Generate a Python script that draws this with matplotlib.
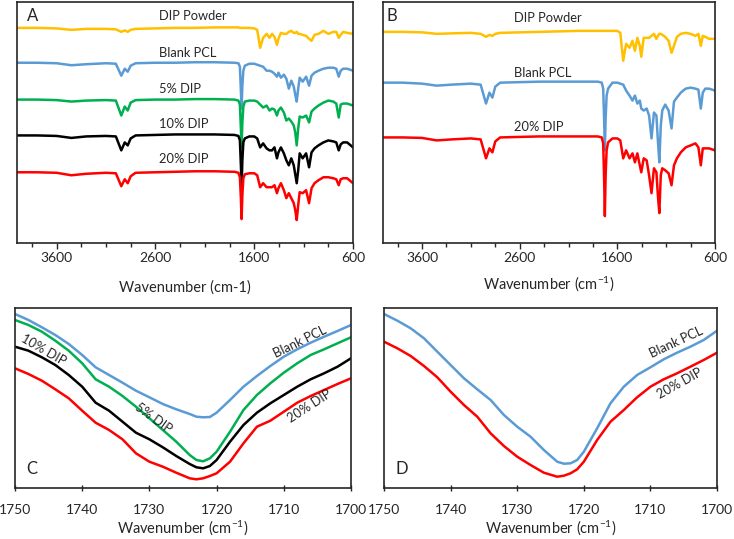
import numpy as np
import matplotlib
matplotlib.use("Agg")
import matplotlib.pyplot as plt
from matplotlib.ticker import FixedLocator

plt.rcParams["font.family"] = ["Lato", "DejaVu Sans"]
plt.rcParams["mathtext.fontset"] = "custom"
plt.rcParams["mathtext.rm"] = "Lato"
plt.rcParams["mathtext.it"] = "Lato:italic"
plt.rcParams["mathtext.bf"] = "Lato:bold"

### DATA ###
# Full spectra (panels A and B), transmittance in arbitrary units
wavenumber = [4000, 3800, 3600, 3450, 3300, 3100, 3000, 2945, 2910, 2880,
              2850, 2800, 2600, 2400, 2200, 2000, 1800, 1760, 1745, 1735,
              1728, 1720, 1710, 1695, 1650, 1600, 1570, 1540, 1510, 1475,
              1445, 1420, 1395, 1370, 1355, 1330, 1300, 1275, 1250, 1225,
              1200, 1185, 1170, 1155, 1140, 1110, 1075, 1045, 1020, 990,
              950, 900, 850, 800, 770, 745, 725, 700, 660, 600]

a_dip_powder = [216, 216, 215.5, 214, 215, 215, 214.5, 212, 213.5, 212,
                214, 215, 215.5, 216, 216, 216.5, 216.5, 216.5, 216, 216,
                216, 216, 216, 216, 216, 215.5, 214, 196, 206, 210,
                206, 210, 207, 199, 205, 211, 210, 210, 212, 213,
                211, 211, 212, 210, 210, 209, 208, 205, 203, 209,
                210, 213, 210, 212, 212, 206, 209, 212, 211, 210]
a_blank_pcl = [181, 181, 180.5, 178.5, 179.5, 180.5, 180, 168, 175, 172,
               178, 180.5, 181, 181, 181.5, 181.5, 181, 180.5, 177, 153,
               135, 158, 173, 178, 180, 180, 179, 178, 177, 173,
               173, 172, 170, 167, 171, 166, 169, 165, 155, 163,
               157, 149, 142, 155, 166, 162, 167, 158, 168, 171,
               173, 175, 176, 176, 175, 167, 173, 175, 175, 173]
a_dip_5 = [144, 144, 143.5, 142, 143, 143.5, 143, 128, 137, 133,
           141, 143.5, 144, 144, 144.5, 144.5, 144, 143, 139, 115,
           96, 121, 137, 142, 143, 143, 142, 139, 136, 138,
           133, 135, 134, 128, 133, 136, 131, 123, 125, 122,
           118, 111, 98, 115, 127, 126, 128, 121, 132, 135,
           138, 141, 143, 142, 140, 126, 139, 140, 140, 138]
a_dip_10 = [108, 108, 107.5, 105.5, 107, 107.5, 107, 93, 101, 98,
            105, 108, 108.5, 109, 109, 109, 108.5, 107.5, 103, 78,
            56, 83, 101, 105, 107, 107, 105, 96, 100, 95,
            93, 93, 96, 85, 91, 96, 90, 83, 78, 85,
            78, 69, 60, 73, 90, 85, 90, 76, 91, 95,
            98, 101, 103, 102, 101, 93, 99, 101, 101, 96]
a_dip_20 = [71, 71, 70.5, 68, 69.5, 70.5, 70, 57, 64, 60,
            67, 70.5, 71, 71.5, 72, 72, 71.5, 70.5, 66, 45,
            24, 48, 65, 69, 70, 70, 68, 56, 60, 56,
            56, 56, 58, 50, 55, 60, 53, 45, 50, 45,
            40, 33, 23, 38, 51, 50, 53, 40, 55, 60,
            63, 66, 66, 65, 64, 58, 64, 65, 65, 60]

b_dip_powder = [212, 212, 211.5, 210, 210.5, 211, 210, 207, 209, 208,
                210, 211, 211.5, 212, 212.5, 213, 213, 213, 213, 213,
                213, 213, 213, 213, 213, 213, 211, 183, 200, 196,
                203, 193, 206, 198, 187, 206, 206, 206, 208, 210,
                205, 208, 210, 210, 209, 207, 203, 191, 198, 207,
                210, 211, 210, 208, 210, 198, 208, 207, 205, 205]
b_blank_pcl = [161, 161, 160, 158, 159, 160, 159, 140, 151, 146,
               157, 161, 161.5, 162, 162, 162, 162, 161, 155, 123,
               93, 125, 148, 155, 161, 161, 160, 159, 153, 148,
               143, 148, 140, 143, 135, 133, 135, 128, 105, 131,
               128, 103, 81, 118, 133, 139, 133, 115, 142, 146,
               151, 155, 156, 155, 154, 135, 151, 155, 155, 153]
b_dip_20 = [106, 106, 105.5, 103, 104, 105, 104, 85, 95, 91,
            102, 106, 106.5, 107, 107, 107, 107, 106, 100, 63,
            27, 68, 93, 101, 105, 105, 103, 85, 93, 85,
            90, 81, 90, 78, 71, 85, 83, 68, 50, 75,
            71, 48, 30, 68, 75, 73, 70, 58, 78, 85,
            91, 96, 98, 100, 96, 78, 95, 95, 95, 93]

# Carbonyl region zoom (panels C and D)
wn_zoom = [1750, 1748, 1746, 1744, 1742, 1740, 1738, 1736, 1734, 1732,
           1730, 1728, 1726, 1724, 1723, 1722, 1721, 1720, 1718, 1716,
           1714, 1712, 1710, 1708, 1706, 1704, 1702, 1700]

c_blank_pcl = [173, 167, 159.7, 152, 143, 132, 119.7, 112, 104.3, 96.3,
               89.7, 83, 77.7, 73, 70.3, 69.7, 70, 74.3, 87, 100.3,
               111, 121, 130.3, 137.7, 144.3, 150.3, 156, 162]
c_dip_5 = [167, 162, 155.3, 146.3, 136.3, 123.7, 107.7, 100.3, 91, 80.3,
           68.7, 57, 45.3, 32, 27, 25.7, 28.7, 35.3, 55.3, 77,
           92, 103.7, 114.3, 123.7, 132, 137.7, 143.7, 149.7]
c_dip_10 = [140.3, 136.3, 129.7, 122, 112, 100.3, 84.3, 76.3, 65.3, 54.3,
            47.7, 39.7, 31, 23, 19.7, 18.7, 21, 27, 45.3, 62,
            74.3, 83.7, 92, 100.3, 107.7, 113.7, 120.3, 128.7]
c_dip_20 = [118.7, 113, 106.3, 97.7, 88.7, 76.3, 64.3, 57, 47.7, 33.7,
            25.3, 20.3, 14.3, 8.7, 7.7, 8.7, 11, 13.7, 25.3, 43.7,
            60.3, 66.3, 75.3, 84.3, 91, 97, 103, 108.7]

d_blank_pcl = [173, 166.3, 158.7, 148.7, 135.3, 122, 108.7, 97.7, 87, 72,
               60.3, 50.3, 37, 25.3, 23.3, 23.7, 27, 35.3, 58.7, 83.7,
               100.3, 112, 119.7, 127.7, 134.3, 140.3, 147, 156.3]
d_dip_20 = [145.3, 138.7, 131, 121, 109.7, 95.3, 82, 70.3, 53.7, 41,
            30.3, 22, 14.3, 10.3, 11.3, 13.7, 17.7, 25.3, 47, 65.3,
            77, 89.7, 100.3, 107.7, 113.7, 120.3, 127, 134.3]

### STYLE ###
YELLOW = "#FFC000"
BLUE = "#5B9BD5"
GREEN = "#00B050"
BLACK = "#000000"
RED = "#FF0000"
TEXT = "#262626"
LW = 1.8
FS = 9.3

fig = plt.figure(figsize=(7.34, 5.39), dpi=100)
ax_a = fig.add_axes([0.0232, 0.5492, 0.4578, 0.4471])
ax_b = fig.add_axes([0.5218, 0.5492, 0.4523, 0.4471])
ax_c = fig.add_axes([0.0204, 0.0946, 0.4578, 0.3340])
ax_d = fig.add_axes([0.5232, 0.0946, 0.4537, 0.3340])


def style_full(ax, xlabel, labelpad):
    ax.set_xlim(4000, 600)
    ax.set_ylim(0, 242)
    ax.xaxis.set_major_locator(FixedLocator([3600, 2600, 1600, 600]))
    ax.xaxis.set_minor_locator(FixedLocator(np.arange(600, 4001, 250)))
    ax.tick_params(axis="x", which="major", direction="out", length=4,
                   width=1, colors=TEXT, labelsize=10, pad=2.5)
    ax.tick_params(axis="x", which="minor", direction="out", length=3,
                   width=1, colors=TEXT)
    ax.set_yticks([])
    ax.set_xlabel(xlabel, fontsize=10.5, color=TEXT, labelpad=labelpad)
    for s in ax.spines.values():
        s.set_color(TEXT)
        s.set_linewidth(1.2)


def style_zoom(ax):
    ax.set_xlim(1750, 1700)
    ax.set_ylim(-1, 179)
    ax.set_xticks([1750, 1740, 1730, 1720, 1710, 1700])
    ax.tick_params(axis="x", direction="inout", length=5, width=1,
                   colors=TEXT, labelsize=10, pad=9)
    ax.set_yticks([])
    ax.set_xlabel("Wavenumber (cm$^{-1}$)", fontsize=10.5, color=TEXT,
                  labelpad=1.5)
    for s in ax.spines.values():
        s.set_color(TEXT)
        s.set_linewidth(1.2)


### PANEL A ###
for y, c in [(a_dip_powder, YELLOW), (a_blank_pcl, BLUE), (a_dip_5, GREEN),
             (a_dip_10, BLACK), (a_dip_20, RED)]:
    ax_a.plot(wavenumber, y, color=c, lw=LW)
for txt, h in [("DIP Powder", 228), ("Blank PCL", 191), ("5% DIP", 155),
               ("10% DIP", 119), ("20% DIP", 84)]:
    ax_a.text(2560, h, txt, ha="left", va="center", fontsize=FS, color=TEXT)
ax_a.text(0.03, 0.94, "A", transform=ax_a.transAxes, fontsize=12,
          color=TEXT, ha="left", va="center")
style_full(ax_a, "Wavenumber (cm-1)", 12)

### PANEL B ###
for y, c in [(b_dip_powder, YELLOW), (b_blank_pcl, BLUE), (b_dip_20, RED)]:
    ax_b.plot(wavenumber, y, color=c, lw=LW)
for txt, h in [("DIP Powder", 226), ("Blank PCL", 171), ("20% DIP", 116)]:
    ax_b.text(2660, h, txt, ha="left", va="center", fontsize=FS, color=TEXT)
ax_b.text(0.012, 0.94, "B", transform=ax_b.transAxes, fontsize=12,
          color=TEXT, ha="left", va="center")
style_full(ax_b, "Wavenumber (cm$^{-1}$)", 7.5)

### PANEL C ###
for y, c in [(c_blank_pcl, BLUE), (c_dip_5, GREEN), (c_dip_10, BLACK),
             (c_dip_20, RED)]:
    ax_c.plot(wn_zoom, y, color=c, lw=LW)
ax_c.text(1707.6, 145, "Blank PCL", rotation=26, ha="center", va="center",
          fontsize=FS, color=TEXT)
ax_c.text(1745.8, 137, "10% DIP", rotation=-30, ha="center", va="center",
          fontsize=FS, color=TEXT)
ax_c.text(1729.4, 69, "5% DIP", rotation=-36, ha="center", va="center",
          fontsize=FS, color=TEXT)
ax_c.text(1706.1, 81, "20% DIP", rotation=33, ha="center", va="center",
          fontsize=FS, color=TEXT)
ax_c.text(0.035, 0.105, "C", transform=ax_c.transAxes, fontsize=12,
          color=TEXT, ha="left", va="center")
style_zoom(ax_c)

### PANEL D ###
for y, c in [(d_blank_pcl, BLUE), (d_dip_20, RED)]:
    ax_d.plot(wn_zoom, y, color=c, lw=LW)
ax_d.text(1706.1, 145, "Blank PCL", rotation=25, ha="center", va="center",
          fontsize=FS, color=TEXT)
ax_d.text(1705.6, 103, "20% DIP", rotation=29, ha="center", va="center",
          fontsize=FS, color=TEXT)
ax_d.text(0.035, 0.105, "D", transform=ax_d.transAxes, fontsize=12,
          color=TEXT, ha="left", va="center")
style_zoom(ax_d)

plt.savefig("out.png", dpi=100)
